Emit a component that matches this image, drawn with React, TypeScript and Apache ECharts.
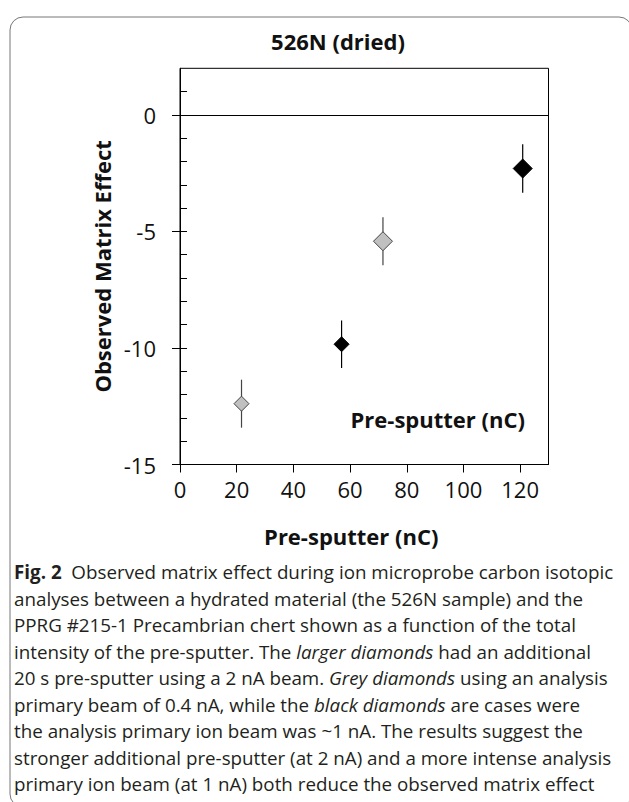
import React, { useEffect, useRef } from "react";
import * as echarts from "echarts";

const titleText = "526N (dried)";
const xAxisTitle = "Pre-sputter (nC)";
const yAxisTitle = "Observed Matrix Effect";
const insideLabel = "Pre-sputter (nC)";

const xTicks = [0, 20, 40, 60, 80, 100, 120];
const yMajorTicks = [-15, -10, -5, 0];
const yMinorTicks = [-14, -13, -12, -11, -9, -8, -7, -6, -4, -3, -2, -1, 1];

// Grey diamonds (0.4 nA analysis beam)
const greyX = [21.7, 71.6];
const greyY = [-12.39, -5.42];
const greyErr = [1.03, 1.03];
const greySize = [15, 19];

// Black diamonds (~1 nA analysis beam)
const blackX = [57.0, 120.9];
const blackY = [-9.84, -2.3];
const blackErr = [1.02, 1.04];
const blackSize = [15, 19];

const captionLines = [
  "{b|Fig. 2}  Observed matrix effect during ion microprobe carbon isotopic",
  "analyses between a hydrated material (the 526N sample) and the",
  "PPRG #215-1 Precambrian chert shown as a function of the total",
  "intensity of the pre-sputter. The {i|larger diamonds} had an additional",
  "20 s pre-sputter using a 2 nA beam. {i|Grey diamonds} using an analysis",
  "primary beam of 0.4 nA, while the {i|black diamonds} are cases were",
  "the analysis primary ion beam was ~1 nA. The results suggest the",
  "stronger additional pre-sputter (at 2 nA) and a more intense analysis",
  "primary ion beam (at 1 nA) both reduce the observed matrix effect",
];

const FONT = "'Open Sans', 'Noto Sans', sans-serif";

export default function App() {
  const ref = useRef<HTMLDivElement>(null);
  useEffect(() => {
    if (!ref.current) return;
    const chart = echarts.init(ref.current, undefined, { renderer: "svg" });

    const errRender = (color: string) => (params: any, api: any) => {
      const x = api.value(0);
      const y = api.value(1);
      const e = api.value(2);
      const p1 = api.coord([x, y - e]);
      const p2 = api.coord([x, y + e]);
      return {
        type: "line",
        shape: { x1: p1[0], y1: p1[1], x2: p2[0], y2: p2[1] },
        style: { stroke: color, lineWidth: 1.2 },
      };
    };

    const captionFontSize = 18.8;
    const captionGraphics = captionLines.map((line, i) => ({
      type: "text",
      left: 14,
      y: 572 + i * 26.5,
      style: {
        text: line,
        font: `${captionFontSize}px ${FONT}`,
        fill: "#231f20",
        verticalAlign: "middle",
        rich: {
          b: { fontWeight: "bold", fontSize: captionFontSize, fontFamily: FONT, fill: "#231f20" },
          i: { fontStyle: "italic", fontSize: captionFontSize, fontFamily: FONT, fill: "#231f20" },
        },
      },
    }));

    chart.setOption({
      animation: false,
      backgroundColor: "#ffffff",
      grid: {
        left: 180,
        right: 80.5,
        top: 68.3,
        bottom: 337.5,
        show: true,
        borderColor: "#000",
        borderWidth: 1,
      },
      xAxis: {
        type: "value",
        min: 0,
        max: 130,
        name: xAxisTitle,
        nameLocation: "middle",
        nameGap: 60,
        nameTextStyle: {
          fontFamily: FONT,
          fontWeight: "bold",
          fontSize: 22,
          color: "#111",
          padding: [0, 26, 0, 0],
        },
        axisLine: { show: true, onZero: false, lineStyle: { color: "#000", width: 1 } },
        axisTick: { show: true, inside: false, length: 8, customValues: xTicks, lineStyle: { color: "#000" } },
        axisLabel: { customValues: xTicks, margin: 13, fontFamily: FONT, fontSize: 22, color: "#111" },
        splitLine: { show: false },
      },
      yAxis: [
        {
          type: "value",
          min: -15,
          max: 2,
          position: "left",
          name: yAxisTitle,
          nameLocation: "middle",
          nameGap: 63,
          nameRotate: 90,
          nameTextStyle: { fontFamily: FONT, fontWeight: "bold", fontSize: 22, color: "#111" },
          axisLine: { show: true, onZero: false, lineStyle: { color: "#000", width: 1 } },
          axisTick: { show: true, inside: false, length: 8, customValues: yMajorTicks, lineStyle: { color: "#000" } },
          axisLabel: { customValues: yMajorTicks, margin: 24, fontFamily: FONT, fontSize: 22, color: "#111" },
          splitLine: { show: false },
        },
        {
          type: "value",
          min: -15,
          max: 2,
          position: "left",
          axisLine: { show: false },
          axisTick: {
            show: true,
            inside: true,
            length: 7,
            customValues: [...yMinorTicks, ...yMajorTicks],
            lineStyle: { color: "#000" },
          },
          axisLabel: { show: false },
          splitLine: { show: false },
        },
      ],
      graphic: [
        {
          type: "rect",
          shape: { x: 10, y: 17, width: 622, height: 790, r: 13 },
          style: { fill: "none", stroke: "#777", lineWidth: 1 },
          silent: true,
          z: -10,
        },
        {
          type: "text",
          x: 338,
          y: 40.5,
          style: {
            text: titleText,
            font: `bold 22px ${FONT}`,
            fill: "#111",
            align: "center",
            verticalAlign: "middle",
          },
        },
        {
          type: "text",
          x: 350.5,
          y: 418.5,
          style: {
            text: insideLabel,
            font: `bold 22px ${FONT}`,
            fill: "#111",
            align: "left",
            verticalAlign: "middle",
          },
        },
        ...captionGraphics,
      ],
      series: [
        {
          type: "custom",
          name: "grey-err",
          renderItem: errRender("#444"),
          data: greyX.map((x, i) => [x, greyY[i], greyErr[i]]),
          z: 1,
          silent: true,
        },
        {
          type: "custom",
          name: "black-err",
          renderItem: errRender("#000"),
          data: blackX.map((x, i) => [x, blackY[i], blackErr[i]]),
          z: 1,
          silent: true,
        },
        {
          type: "scatter",
          name: "Grey diamonds",
          symbol: "diamond",
          data: greyX.map((x, i) => ({ value: [x, greyY[i]], symbolSize: greySize[i] })),
          itemStyle: { color: "#c0c0c0", borderColor: "#444", borderWidth: 1, opacity: 1 },
          z: 3,
          markLine: {
            silent: true,
            symbol: ["none", "none"],
            label: { show: false },
            lineStyle: { color: "#000", width: 1, type: "solid" },
            data: [{ yAxis: 0 }],
          },
        },
        {
          type: "scatter",
          name: "Black diamonds",
          symbol: "diamond",
          data: blackX.map((x, i) => ({ value: [x, blackY[i]], symbolSize: blackSize[i] })),
          itemStyle: { color: "#000", borderColor: "#000", borderWidth: 1, opacity: 1 },
          z: 3,
        },
      ],
    });
    return () => chart.dispose();
  }, []);
  return (
    <div
      ref={ref}
      style={{ position: "absolute", left: 0, top: 0, width: 629, height: 802 }}
    />
  );
}
